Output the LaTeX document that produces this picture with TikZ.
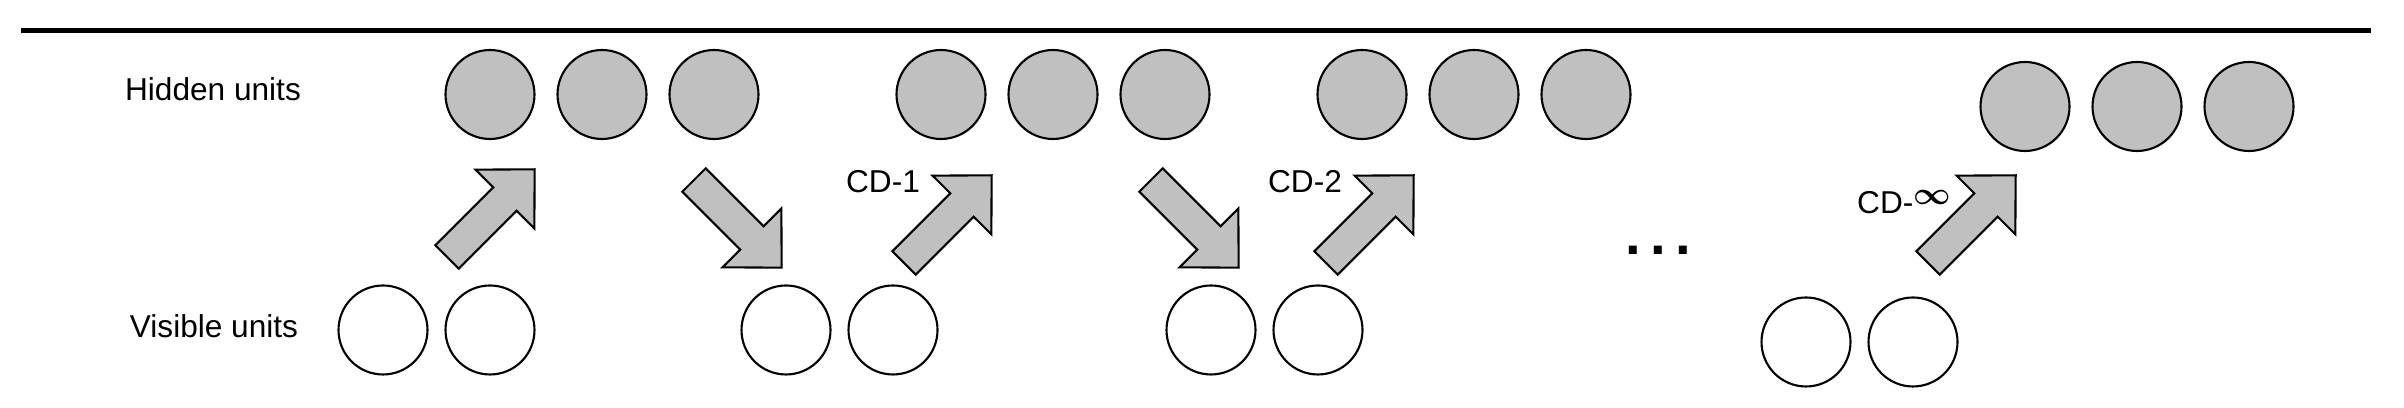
\documentclass[tikz,border=0pt]{standalone}
\usepackage{amsmath,amssymb}
\usepackage{fontspec}
\setmainfont{Liberation Sans}
\usetikzlibrary{positioning}
\definecolor{unitgray}{RGB}{192,192,192}
\newcommand{\cdarrow}[2]{% tail point, angle
  \draw[arrowbody,shift={#1},rotate=#2] (0,-.165) -- (.82,-.165) -- (.82,-.415) -- (1.24,0)
    -- (.82,.415) -- (.82,.165) -- (0,.165) -- cycle;}
\begin{document}
\begin{tikzpicture}[
    node distance=0.23cm,
    hid/.style={circle,minimum size=0.89cm,inner sep=0pt,outer sep=0pt,draw,fill=unitgray,line width=0.6pt},
    vis/.style={circle,minimum size=0.89cm,inner sep=0pt,outer sep=0pt,draw,fill=white,line width=0.6pt},
    lbl/.style={font=\fontsize{9}{10}\selectfont,inner sep=0pt},
    arrowbody/.style={draw,fill=unitgray,line width=0.6pt,line join=miter}]
    \useasboundingbox (0,0) rectangle (24.04,4.08);
    \draw[line width=1.4pt] (0.21,3.775) -- (23.71,3.775);

    \node[lbl] (hlabel) at (2.13,3.19) {Hidden units};
    \node[lbl] (vlabel) at (2.14,0.82) {Visible units};

    % hidden layers
    \node[hid] (H1a) at (4.90,3.135) {};
    \node[hid] (H1b) [right=of H1a] {};
    \node[hid] (H1c) [right=of H1b] {};
    \node[hid] (H2a) at (9.41,3.135) {};
    \node[hid] (H2b) [right=of H2a] {};
    \node[hid] (H2c) [right=of H2b] {};
    \node[hid] (H3a) at (13.62,3.135) {};
    \node[hid] (H3b) [right=of H3a] {};
    \node[hid] (H3c) [right=of H3b] {};
    \node[hid] (H4a) at (20.25,3.015) {};
    \node[hid] (H4b) [right=of H4a] {};
    \node[hid] (H4c) [right=of H4b] {};

    % visible layers
    \node[vis] (V1a) at (3.83,0.78) {};
    \node[vis] (V1b) [right=0.18cm of V1a] {};
    \node[vis] (V2a) at (7.86,0.78) {};
    \node[vis] (V2b) [right=0.18cm of V2a] {};
    \node[vis] (V3a) at (12.11,0.78) {};
    \node[vis] (V3b) [right=0.18cm of V3a] {};
    \node[vis] (V4a) at (18.06,0.66) {};
    \node[vis] (V4b) [right=0.18cm of V4a] {};

    % sampling steps
    \cdarrow{(4.47,1.51)}{45}
    \cdarrow{(6.94,2.28)}{-45}
    \cdarrow{(9.04,1.45)}{45}
    \cdarrow{(11.51,2.28)}{-45}
    \cdarrow{(13.26,1.45)}{45}
    \cdarrow{(19.28,1.45)}{45}

    \node[lbl] (cd1) at (8.83,2.26) {CD-1};
    \node[lbl] (cd2) at (13.05,2.26) {CD-2};
    \node[lbl] (cdinf) at (19.04,2.06) {CD-\raisebox{0.5ex}{$\boldsymbol{\infty}$}};
    \node[font=\fontsize{16}{16}\selectfont\bfseries,inner sep=0pt] (dots) at (16.58,1.58) {.\,.\,.};
\end{tikzpicture}
\end{document}
